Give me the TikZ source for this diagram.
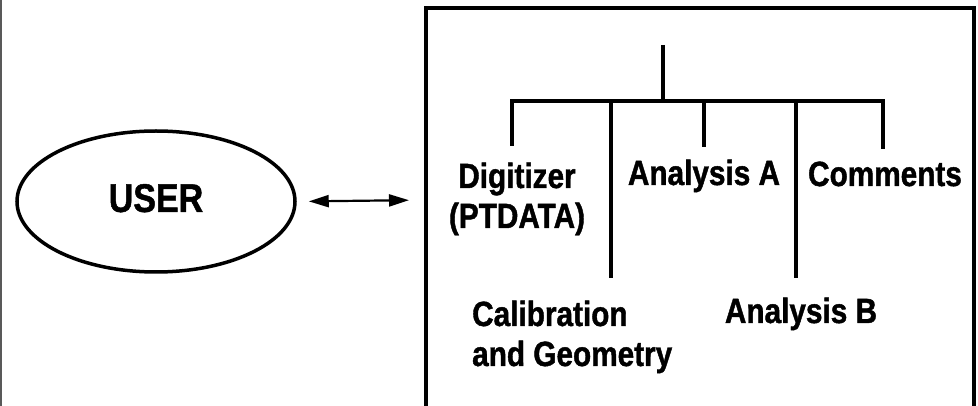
\documentclass[tikz,border=0pt]{standalone}
\usepackage{fontspec}
\setmainfont{Liberation Sans}[FakeStretch=0.85,BoldFeatures={FakeBold=1.2}]
\usetikzlibrary{arrows.meta,shapes.geometric}
\tikzset{
  >={Triangle[length=20pt,width=12pt]},
  module/.style={font=\fontsize{35}{40}\selectfont\bfseries,inner sep=0pt,align=#1},
  module/.default=center,
  tree line/.style={line width=4pt,line join=miter},
  frame line/.style={line width=3.3pt,line join=miter},
  user/.style={ellipse,draw,line width=3.5pt,minimum width=278pt,minimum height=141pt,
    inner sep=0pt,text depth=7pt,font=\fontsize{40}{44}\selectfont\bfseries},
  link/.style={<->,line width=2.2pt},
}

\begin{document}
\begin{tikzpicture}[x=1pt,y=-1pt]
  \useasboundingbox (0,0) rectangle (978,406);
  \draw[gray!70!black,line width=1.5pt] (0.75,0) -- (0.75,406);
  % user and program panel
  \node[user] (user) at (156,201.5) {USER};
  \draw[frame line] (426,412) -- (426,8) -- (974,8) -- (974,412);
  \coordinate (panel) at (426,200);
  \draw[link,shorten <=12pt,shorten >=17pt] (user.east) -- (panel);
  % tree
  \coordinate (root) at (663,45);
  \coordinate (hub) at (663,101);
  \coordinate (dig) at (512,146);
  \coordinate (cal) at (611,278);
  \coordinate (ana) at (704,147);
  \coordinate (anb) at (796,278);
  \coordinate (com) at (883,149);
  \draw[tree line] (root) -- (hub);
  \draw[tree line] (dig) -- (dig |- hub) -- (com |- hub) -- (com);
  \foreach \c in {cal,ana,anb}
    \draw[tree line] (\c |- hub) -- (\c);
  % labels (base = last line)
  \node[module,anchor=base] (digitizer) at (517,228) {Digitizer\\(PTDATA)};
  \node[module=left,anchor=base west] (calib) at (472,366) {Calibration\\and Geometry};
  \node[module,anchor=base] (analysisA) at (704,185) {Analysis A};
  \node[module,anchor=base] (analysisB) at (801,323) {Analysis B};
  \node[module,anchor=base] (comments) at (885,186) {Comments};
\end{tikzpicture}
\end{document}
